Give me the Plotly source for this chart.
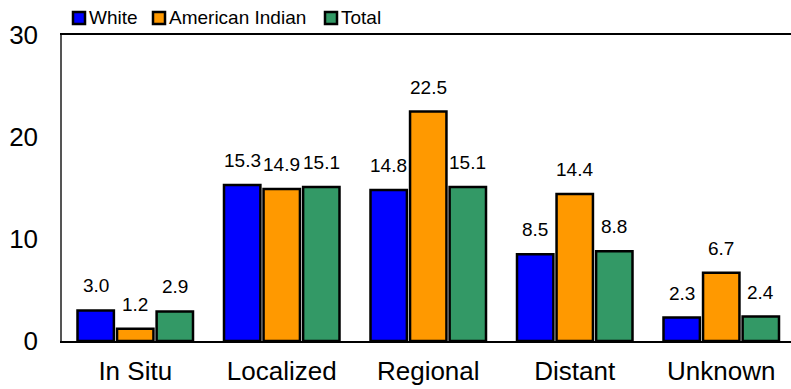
import plotly.graph_objects as go

categories = ["In Situ", "Localized", "Regional", "Distant", "Unknown"]
white = [3.0, 15.3, 14.8, 8.5, 2.3]
american_indian = [1.2, 14.9, 22.5, 14.4, 6.7]
total = [2.9, 15.1, 15.1, 8.8, 2.4]
y_ticks = [0, 10, 20, 30]

series = [("White", white, "#0000FF"),
          ("American Indian", american_indian, "#FF9900"),
          ("Total", total, "#339966")]

FONT = "Liberation Sans, Arial, sans-serif"
W, H = 791, 389
ML, MR, MT, MB = 62, 0, 35, 48
PW, PH = W - ML - MR, H - MT - MB
bargap = 0.19
bargroupgap = 0.08

fig = go.Figure()
for name, vals, color in series:
    fig.add_trace(go.Bar(
        name=name, x=categories, y=vals, showlegend=False,
        marker=dict(color=color, line=dict(color="black", width=2.5)),
    ))

slot = (1 - bargap) / len(series)
annotations = []
shapes = []
for j, (name, vals, color) in enumerate(series):
    off = (j - (len(series) - 1) / 2) * slot
    for i, v in enumerate(vals):
        annotations.append(dict(
            x=i + off, y=v, xref="x", yref="y", text=f"{v:.1f}",
            showarrow=False, yanchor="bottom", yshift=12,
            font=dict(family=FONT, size=19, color="black")))

# manual legend (pixel positions converted to paper coords)
def px(x):
    return (x - ML) / PW

def py(y):
    return (H - MB - y) / PH

legend_sq = [73, 153, 325]
legend_tx = [87, 167, 339]
for (name, vals, color), sx, tx in zip(series, legend_sq, legend_tx):
    shapes.append(dict(type="rect", xref="paper", yref="paper",
                       x0=px(sx), x1=px(sx + 12), y0=py(24), y1=py(12),
                       fillcolor=color, line=dict(color="black", width=2.5)))
    annotations.append(dict(x=px(tx), y=py(18), xref="paper", yref="paper",
                            text=name, showarrow=False, xanchor="left",
                            yanchor="middle",
                            font=dict(family=FONT, size=19, color="black")))

fig.update_layout(
    width=W, height=H,
    margin=dict(l=ML, r=MR, t=MT, b=MB),
    paper_bgcolor="white", plot_bgcolor="white",
    barmode="group", bargap=bargap, bargroupgap=bargroupgap,
    font=dict(family=FONT, color="black"),
    annotations=annotations, shapes=shapes,
    showlegend=False,
    xaxis=dict(range=[-0.5, -0.5 + PW / 146.5], showline=True, linecolor="black",
               linewidth=1.5, mirror=True, ticks="", tickfont=dict(size=26),
               showgrid=False, ticklabelstandoff=6),
    yaxis=dict(range=[0, 30], tickvals=y_ticks, showline=True, linecolor="#555555",
               linewidth=1.5, ticks="", tickfont=dict(size=26), showgrid=False,
               zeroline=False, ticklabelstandoff=17),
)

fig.write_html("out.html")
